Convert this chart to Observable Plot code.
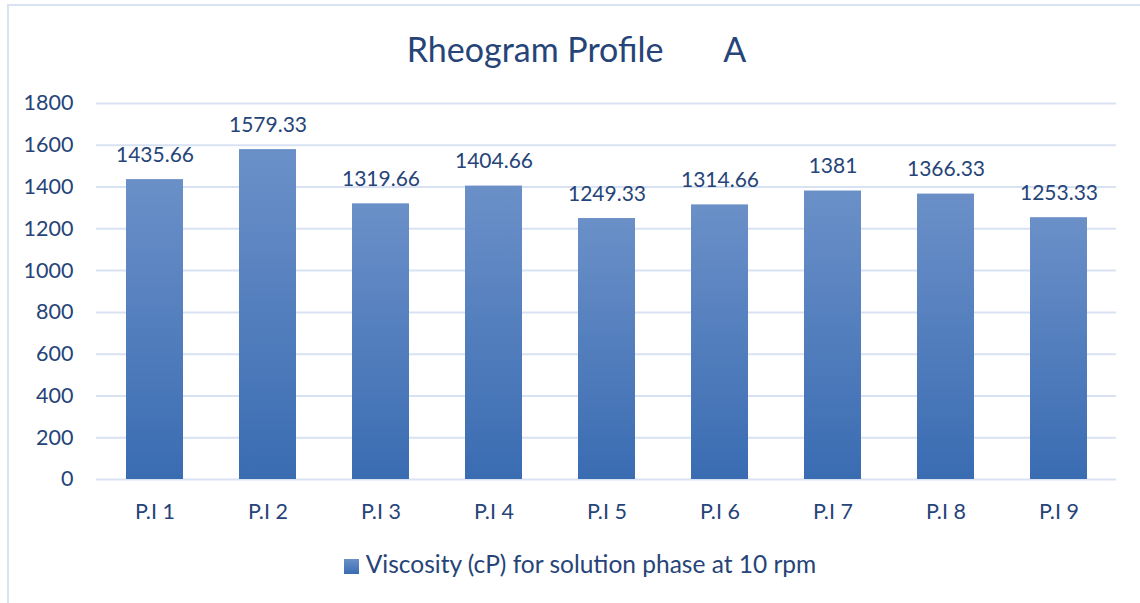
<!DOCTYPE html>
<html>
<head>
<meta charset="utf-8">
<script src="https://cdn.jsdelivr.net/npm/d3@7"></script>
<script src="https://cdn.jsdelivr.net/npm/@observablehq/plot@0.6"></script>
<style>
  html, body { margin: 0; padding: 0; background: #fff; overflow: hidden; }
  #wrap { position: relative; width: 1140px; height: 603px; font-family: Lato, "Open Sans", sans-serif; color: #264478; }
  #frame { position: absolute; left: 7px; top: 4px; width: 1160px; height: 620px; border: 2px solid #d9e2f3; box-sizing: border-box; pointer-events: none; }
  #title { height: 80px; box-sizing: border-box; padding-top: 29px; padding-left: 13px; font-size: 34px; line-height: 40px; text-align: center; white-space: pre; }
  #chart svg { display: block; }
  #legend { height: 63px; box-sizing: border-box; padding-top: 9px; padding-left: 20px; font-size: 24.5px; line-height: 29px; text-align: center; white-space: nowrap; }
  #legend .sw { display: inline-block; width: 15px; height: 15px; margin-right: 7px; vertical-align: -1px; background: linear-gradient(#6b90c8, #3a6cb2); }
</style>
</head>
<body>
<div id="wrap">
  <div id="frame"></div>
  <div id="title"></div>
  <div id="chart"></div>
  <div id="legend"></div>
</div>
<script>
const titleText = "Rheogram Profile       A";
const seriesName = "Viscosity (cP) for solution phase at 10 rpm";
const categories = ["P.I 1", "P.I 2", "P.I 3", "P.I 4", "P.I 5", "P.I 6", "P.I 7", "P.I 8", "P.I 9"];
const values = [1435.66, 1579.33, 1319.66, 1404.66, 1249.33, 1314.66, 1381, 1366.33, 1253.33];
const yTicks = [0, 200, 400, 600, 800, 1000, 1200, 1400, 1600, 1800];

const data = categories.map((c, i) => ({category: c, value: values[i]}));

document.getElementById("title").textContent = titleText;
const leg = document.getElementById("legend");
leg.innerHTML = '<span class="sw"></span>';
leg.appendChild(document.createTextNode(seriesName));

const textColor = "#264478";
const gridColor = "#d9e2f3";

const defs = () => {
  const d = d3.create("svg:defs");
  const g = d.append("linearGradient").attr("id", "barGrad").attr("x1", 0).attr("y1", 0).attr("x2", 0).attr("y2", 1);
  g.append("stop").attr("offset", "0%").attr("stop-color", "#6b90c8");
  g.append("stop").attr("offset", "100%").attr("stop-color", "#3a6cb2");
  return d.node();
};

const chart = Plot.plot({
  width: 1140,
  height: 460,
  marginLeft: 96,
  marginRight: 24,
  marginTop: 23,
  marginBottom: 61,
  style: {fontFamily: "Lato, 'Open Sans', sans-serif", color: textColor, background: "transparent", overflow: "visible"},
  x: {domain: categories, paddingInner: 0.5, paddingOuter: 0.25, label: null},
  y: {domain: [0, 1800], label: null},
  marks: [
    defs,
    Plot.ruleY(yTicks, {stroke: gridColor, strokeWidth: 2}),
    Plot.barY(data, {x: "category", y: "value", fill: "url(#barGrad)"}),
    Plot.text(data, {x: "category", y: "value", text: d => String(d.value), lineAnchor: "bottom", dy: -18, fontSize: 21, fill: textColor}),
    Plot.axisY({ticks: yTicks, tickSize: 0, tickPadding: 23, fontSize: 21.5, fill: textColor, tickFormat: d => String(d), label: null}),
    Plot.axisX({tickSize: 0, tickPadding: 24, fontSize: 21.5, fill: textColor, label: null})
  ]
});
document.getElementById("chart").appendChild(chart);
</script>
</body>
</html>
